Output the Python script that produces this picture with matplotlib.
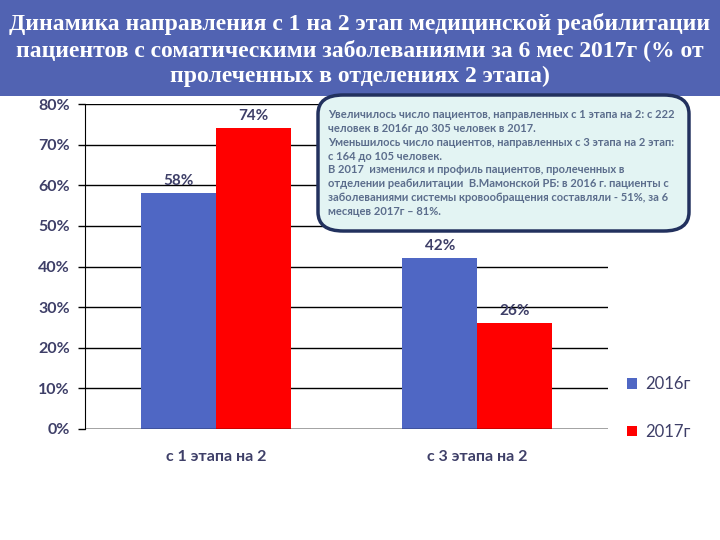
import matplotlib.pyplot as plt
from matplotlib.patches import Rectangle, FancyBboxPatch
import numpy as np

categories = ['с 1 этапа на 2', 'с 3 этапа на 2']
series_names = ['2016г', '2017г']
values_2016 = [0.58, 0.42]
values_2017 = [0.74, 0.26]
yticks = [0, 0.1, 0.2, 0.3, 0.4, 0.5, 0.6, 0.7, 0.8]

title = ('Динамика направления с 1 на 2 этап медицинской реабилитации\n'
         'пациентов с соматическими заболеваниями за 6 мес 2017г (% от\n'
         'пролеченных в отделениях 2 этапа)')
note = ('Увеличилось число пациентов, направленных с 1 этапа на 2: с 222\n'
        'человек в 2016г до 305 человек в 2017.\n'
        'Уменьшилось число пациентов, направленных с 3 этапа на 2 этап:\n'
        'с 164 до 105 человек.\n'
        'В 2017  изменился и профиль пациентов, пролеченных в\n'
        'отделении реабилитации  В.Мамонской РБ: в 2016 г. пациенты с\n'
        'заболеваниями системы кровообращения составляли - 51%, за 6\n'
        'месяцев 2017г – 81%.')

blue = '#4F67C4'
red = '#FF0000'
text_col = '#3E3F68'
sans = ['Lato', 'DejaVu Sans']

fig = plt.figure(figsize=(7.2, 5.4), dpi=100)

# title band
fig.patches.append(Rectangle((0, 1 - 96 / 540), 1, 96 / 540,
                             transform=fig.transFigure,
                             facecolor='#5163B2', edgecolor='none'))
fig.text(0.5, 1 - 50 / 540, title, ha='center', va='center',
         color='white', fontsize=17, fontweight='bold',
         family=['Liberation Serif'], linespacing=1.27)

ax = fig.add_axes([85 / 720, 1 - 429 / 540, 523 / 720, 325 / 540])
x = np.arange(len(categories))
w = 0.287
b1 = ax.bar(x - w / 2, values_2016, w, color=blue, label=series_names[0],
            zorder=3)
b2 = ax.bar(x + w / 2, values_2017, w, color=red, label=series_names[1],
            zorder=3)
for bars in (b1, b2):
    ax.bar_label(bars, labels=['%d%%' % round(v.get_height() * 100)
                               for v in bars],
                 padding=4, fontsize=11, color=text_col, family=sans,
                 fontweight='bold')

ax.set_xlim(-0.5, 1.5)
ax.set_ylim(0, 0.8)
ax.set_yticks(yticks)
ax.set_yticklabels(['%d%%' % round(t * 100) for t in yticks],
                   fontsize=11.5, color=text_col, family=sans,
                   fontweight='bold')
ax.set_xticks(x)
ax.set_xticklabels(categories, fontsize=11.5, color=text_col, family=sans,
                   fontweight='bold')
ax.tick_params(axis='x', length=0, pad=15)
ax.tick_params(axis='y', length=5, width=1, color='black', pad=6)
ax.grid(axis='y', color='black', linewidth=1, zorder=0)
for s in ('top', 'right', 'bottom'):
    ax.spines[s].set_visible(False)
ax.spines['left'].set_color('black')
ax.axhline(0, color='black', linewidth=1, zorder=4)

ax.legend(loc='center left', bbox_to_anchor=(612 / 720, 1 - 408 / 540),
          bbox_transform=fig.transFigure, frameon=False,
          handlelength=0.6, handleheight=0.6, handletextpad=0.5,
          labelspacing=1.9, prop={'family': sans, 'size': 12},
          labelcolor=text_col)

# note box
box = FancyBboxPatch((318 / 720, 1 - 231 / 540), 371 / 720, 136 / 540,
                     boxstyle='round,pad=0,rounding_size=0.035',
                     transform=fig.transFigure, facecolor='#E3F4F3',
                     edgecolor='#22315E', linewidth=2.5, zorder=10)
fig.patches.append(box)
fig.text(328 / 720, 1 - 163 / 540, note, ha='left', va='center',
         fontsize=8.0, fontweight='bold', color='#5B6D8C', family=sans,
         linespacing=1.33, zorder=11)

fig.savefig('out.png', dpi=100)
